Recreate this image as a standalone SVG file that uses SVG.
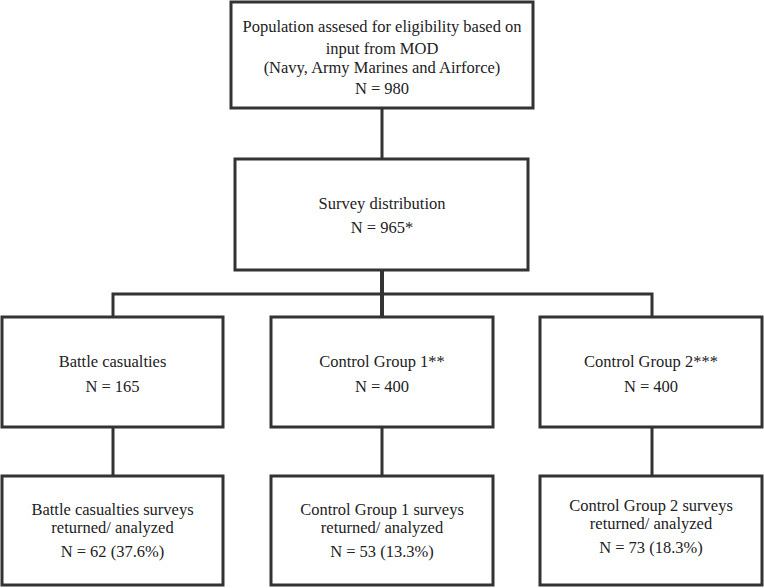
<svg xmlns="http://www.w3.org/2000/svg" width="764" height="588" viewBox="0 0 764 588">
<style>
.box{fill:#fff;stroke:#333;stroke-width:3}
.ln{stroke:#333;stroke-width:3;fill:none}
.t{font-family:'Liberation Serif',serif;font-size:16.5px;fill:#222;text-anchor:middle}
</style>
<rect width="764" height="588" fill="#fff"/>
<g id="connectors">
<line class="ln" x1="382" y1="108" x2="382" y2="159"/>
<line class="ln" x1="382" y1="270" x2="382" y2="317" style="stroke-width:4"/>
<polyline class="ln" points="113,317 113,294 652,294 652,317"/>
<line class="ln" x1="113" y1="427" x2="113" y2="476"/>
<line class="ln" x1="382" y1="427" x2="382" y2="476"/>
<line class="ln" x1="652" y1="427" x2="652" y2="476"/>
</g>
<g id="n-population">
<rect class="box" x="231" y="2" width="302" height="106"/>
<text class="t" x="382" y="32" font-family="Liberation Serif">Population assesed for eligibility based on</text>
<text class="t" x="382" y="54" font-family="Liberation Serif">input from MOD</text>
<text class="t" x="382" y="73" font-family="Liberation Serif">(Navy, Army Marines and Airforce)</text>
<text class="t" x="382" y="94" font-family="Liberation Serif">N = 980</text>
</g>
<g id="n-survey">
<rect class="box" x="235" y="159" width="293" height="111"/>
<text class="t" x="382" y="209" font-family="Liberation Serif">Survey distribution</text>
<text class="t" x="382" y="233" font-family="Liberation Serif">N = 965*</text>
</g>
<g id="n-battle">
<rect class="box" x="2" y="317" width="221" height="110"/>
<text class="t" x="112.5" y="367" font-family="Liberation Serif">Battle casualties</text>
<text class="t" x="112.5" y="392" font-family="Liberation Serif">N = 165</text>
</g>
<g id="n-cg1">
<rect class="box" x="271" y="317" width="222" height="110"/>
<text class="t" x="382" y="367" font-family="Liberation Serif">Control Group 1**</text>
<text class="t" x="382" y="392" font-family="Liberation Serif">N = 400</text>
</g>
<g id="n-cg2">
<rect class="box" x="540" y="317" width="222" height="110"/>
<text class="t" x="651" y="367" font-family="Liberation Serif">Control Group 2***</text>
<text class="t" x="651" y="392" font-family="Liberation Serif">N = 400</text>
</g>
<g id="n-battle-ret">
<rect class="box" x="2" y="476" width="221" height="109"/>
<text class="t" x="112.5" y="515" font-family="Liberation Serif">Battle casualties surveys</text>
<text class="t" x="112.5" y="533" font-family="Liberation Serif">returned/ analyzed</text>
<text class="t" x="112.5" y="557" font-family="Liberation Serif">N = 62 (37.6%)</text>
</g>
<g id="n-cg1-ret">
<rect class="box" x="271" y="476" width="222" height="109"/>
<text class="t" x="382" y="515" font-family="Liberation Serif">Control Group 1 surveys</text>
<text class="t" x="382" y="533" font-family="Liberation Serif">returned/ analyzed</text>
<text class="t" x="382" y="557" font-family="Liberation Serif">N = 53 (13.3%)</text>
</g>
<g id="n-cg2-ret">
<rect class="box" x="540" y="476" width="222" height="109"/>
<text class="t" x="651" y="511" font-family="Liberation Serif">Control Group 2 surveys</text>
<text class="t" x="651" y="529" font-family="Liberation Serif">returned/ analyzed</text>
<text class="t" x="651" y="553" font-family="Liberation Serif">N = 73 (18.3%)</text>
</g>
</svg>
